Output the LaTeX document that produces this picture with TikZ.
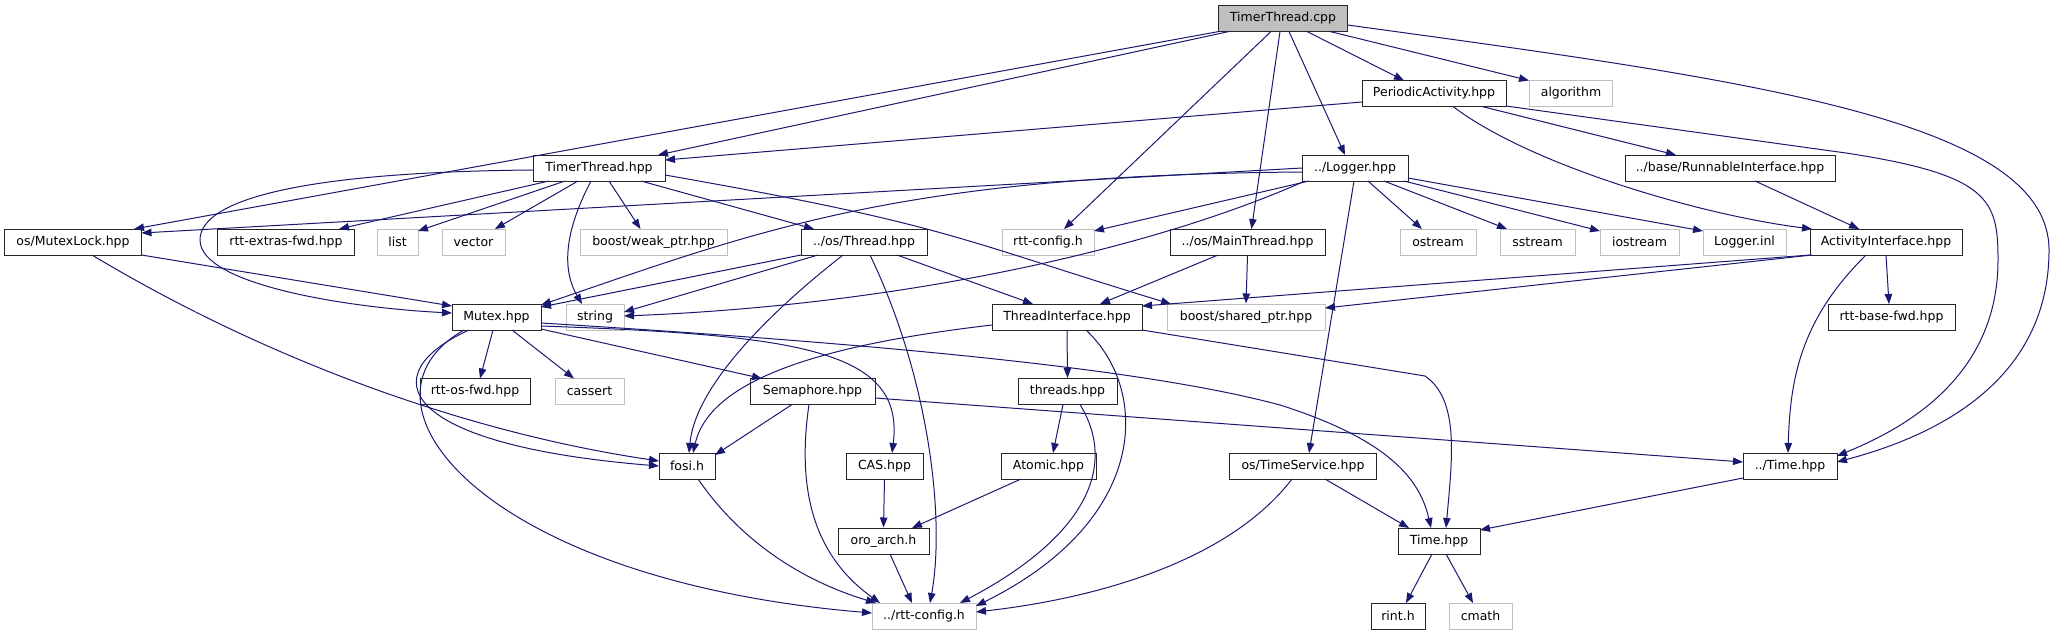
\documentclass[tikz,border=0pt]{standalone}
\usepackage{fontspec}
\setmainfont{DejaVu Sans}
\usetikzlibrary{arrows.meta,calc}
\definecolor{edgeblue}{HTML}{191970}
\definecolor{sysgray}{HTML}{BFBFBF}
\begin{document}
\begin{tikzpicture}[x=1pt,y=-1pt,
  file/.style={draw=black!85,line width=1pt,fill=white,minimum height=26pt,inner sep=0pt,font=\fontsize{12.5}{14}\selectfont},
  sys/.style={file,draw=sysgray},
  root/.style={file,fill=sysgray},
  dep/.style={draw=edgeblue,line width=1pt,-{Triangle[length=10pt,width=7.5pt]}}]
\useasboundingbox (0,0) rectangle (2055,635);
% files
\node[root,minimum width=129pt] (cpp) at (1283,18.5) {TimerThread.cpp};
\node[file,minimum width=144pt] (pact) at (1434,93.5) {PeriodicActivity.hpp};
\node[sys,minimum width=83pt] (algo) at (1571,93.5) {algorithm};
\node[file,minimum width=132pt] (tthpp) at (599,168) {TimerThread.hpp};
\node[file,minimum width=106pt] (logger) at (1355,168) {../Logger.hpp};
\node[file,minimum width=210pt] (runnable) at (1730,168) {../base/RunnableInterface.hpp};
\node[file,minimum width=137pt] (mlock) at (73,242) {os/MutexLock.hpp};
\node[file,minimum width=137pt] (extras) at (286,242) {rtt-extras-fwd.hpp};
\node[sys,minimum width=41pt] (list) at (397.5,242) {list};
\node[sys,minimum width=63pt] (vector) at (473.5,242) {vector};
\node[sys,minimum width=147pt] (weakptr) at (653.5,242) {boost/weak\_ptr.hpp};
\node[file,minimum width=126pt] (thread) at (864,242) {../os/Thread.hpp};
\node[sys,minimum width=92pt] (cfg) at (1048,242) {rtt-config.h};
\node[file,minimum width=155pt] (mainthr) at (1247.5,242) {../os/MainThread.hpp};
\node[sys,minimum width=76pt] (ostream) at (1438,242) {ostream};
\node[sys,minimum width=75pt] (sstream) at (1537.5,242) {sstream};
\node[sys,minimum width=79pt] (iostream) at (1639.5,242) {iostream};
\node[sys,minimum width=83pt] (loginl) at (1744.5,242) {Logger.inl};
\node[file,minimum width=152pt] (actif) at (1886,242) {ActivityInterface.hpp};
\node[file,minimum width=89pt] (mutex) at (496.5,317) {Mutex.hpp};
\node[sys,minimum width=58pt] (string) at (595,317) {string};
\node[file,minimum width=150pt] (thrif) at (1067,317) {ThreadInterface.hpp};
\node[sys,minimum width=158pt] (sharedptr) at (1246,317) {boost/shared\_ptr.hpp};
\node[file,minimum width=127pt] (basefwd) at (1891.5,317) {rtt-base-fwd.hpp};
\node[file,minimum width=110pt] (osfwd) at (475,391.5) {rtt-os-fwd.hpp};
\node[sys,minimum width=69pt] (cassert) at (589.5,391.5) {cassert};
\node[file,minimum width=125pt] (sema) at (812.5,391.5) {Semaphore.hpp};
\node[file,minimum width=99pt] (threads) at (1067.5,391.5) {threads.hpp};
\node[file,minimum width=56pt] (fosi) at (687,466) {fosi.h};
\node[file,minimum width=77pt] (cas) at (884.5,466) {CAS.hpp};
\node[file,minimum width=95pt] (atomic) at (1048.5,466) {Atomic.hpp};
\node[file,minimum width=147pt] (tsvc) at (1303,466) {os/TimeService.hpp};
\node[file,minimum width=94pt] (ltime) at (1790,466) {../Time.hpp};
\node[file,minimum width=91pt] (oro) at (883.5,541) {oro\_arch.h};
\node[file,minimum width=82pt] (time) at (1439,541) {Time.hpp};
\node[sys,minimum width=104pt] (rcfg) at (924,616) {../rtt-config.h};
\node[file,minimum width=54pt] (rint) at (1398,616) {rint.h};
\node[sys,minimum width=63pt] (cmath) at (1480.5,616) {cmath};
% TimerThread.cpp
\draw[dep] ($(cpp)+(-64,13)$) -- ($(mlock)+(61,-13)$);
\draw[dep] ($(cpp)+(-54,13)$) -- ($(tthpp)+(59,-13)$);
\draw[dep] ($(cpp)+(-12,13)$) -- ($(cfg)+(16,-13)$);
\draw[dep] ($(cpp)+(-3,13)$) -- ($(mainthr)+(4,-13)$);
\draw[dep] ($(cpp)+(6,13)$) -- ($(logger)+(-10,-13)$);
\draw[dep] ($(cpp)+(24,13)$) -- ($(pact)+(-30,-13)$);
\draw[dep] ($(cpp)+(47,13)$) -- ($(algo)+(-42,-13)$);
\draw[dep] ($(cpp)+(64.5,6.5)$) .. controls (1750,80) and (2049,120) .. (2049,250)
  .. controls (2049,390) and (1920,440) .. ($(ltime)+(47,-4)$);
% PeriodicActivity.hpp
\draw[dep] ($(pact)+(-72,8.5)$) -- ($(tthpp)+(66,-8)$);
\draw[dep] ($(pact)+(48,13)$) -- ($(runnable)+(-54,-13)$);
\draw[dep] ($(pact)+(19,13)$) .. controls (1530,165) and (1700,215) .. ($(actif)+(-74,-13)$);
\draw[dep] ($(pact)+(72,12.5)$) -- (1846,153) .. controls (1990,175) and (1998,200) .. (1998,260)
  .. controls (1998,380) and (1900,430) .. ($(ltime)+(47,-10)$);
% TimerThread.hpp
\draw[dep] ($(tthpp)+(-66,2)$) .. controls (300,172) and (200,200) .. (200,240)
  .. controls (200,285) and (350,308) .. ($(mutex)+(-44.5,-4)$);
\draw[dep] ($(tthpp)+(-50,13)$) -- ($(extras)+(53,-13)$);
\draw[dep] ($(tthpp)+(-34,13)$) -- ($(list)+(20.5,-11)$);
\draw[dep] ($(tthpp)+(-21,13)$) -- ($(vector)+(21.5,-13)$);
\draw[dep] ($(tthpp)+(-8,13)$) .. controls (560,240) and (565,275) .. ($(string)+(-13,-13)$);
\draw[dep] ($(tthpp)+(10,13)$) -- ($(weakptr)+(-13,-13)$);
\draw[dep] ($(tthpp)+(42,13)$) -- ($(thread)+(-50,-13)$);
\draw[dep] ($(tthpp)+(66,7)$) .. controls (950,225) and (960,240) .. ($(sharedptr)+(-75,-13)$);
% ../Logger.hpp
\draw[dep] ($(logger)+(-53,0)$) -- ($(mlock)+(68.5,-9)$);
\draw[dep] ($(logger)+(-53,4)$) .. controls (900,175) and (760,230) .. ($(mutex)+(44.5,-12)$);
\draw[dep] ($(logger)+(-50,13)$) .. controls (1150,250) and (900,305) .. ($(string)+(29,-1)$);
\draw[dep] ($(logger)+(-46,13)$) -- ($(cfg)+(46,-11)$);
\draw[dep] ($(logger)+(-1,13)$) -- ($(tsvc)+(6,-13)$);
\draw[dep] ($(logger)+(13,13)$) -- ($(ostream)+(-16,-13)$);
\draw[dep] ($(logger)+(29,13)$) -- ($(sstream)+(-30.5,-13)$);
\draw[dep] ($(logger)+(49,13)$) -- ($(iostream)+(-39.5,-11)$);
\draw[dep] ($(logger)+(53,10)$) -- ($(loginl)+(-41.5,-11)$);
% interfaces
\draw[dep] ($(runnable)+(25,13)$) -- ($(actif)+(-27,-13)$);
\draw[dep] ($(actif)+(0,13)$) -- ($(basefwd)+(-2.5,-13)$);
\draw[dep] ($(actif)+(-20,13)$) .. controls (1800,320) and (1790,380) .. ($(ltime)+(-2,-13)$);
\draw[dep] ($(actif)+(-76,13)$) -- ($(thrif)+(75,-11)$);
\draw[dep] ($(actif)+(-74,13)$) -- ($(sharedptr)+(79,-9)$);
% os/MutexLock.hpp and Mutex.hpp
\draw[dep] ($(mlock)+(68.5,13)$) -- ($(mutex)+(-44.5,-11)$);
\draw[dep] ($(mlock)+(19,13)$) .. controls (250,350) and (450,430) .. ($(fosi)+(-28,-5)$);
\draw[dep] ($(mutex)+(-3.5,13)$) -- ($(osfwd)+(5,-13)$);
\draw[dep] ($(mutex)+(15.5,13)$) -- ($(cassert)+(-15.5,-13)$);
\draw[dep] ($(mutex)+(-27.5,13)$) .. controls (370,375) and (400,445) .. ($(fosi)+(-28,0)$);
\draw[dep] ($(mutex)+(-32.5,13)$) .. controls (340,400) and (480,580) .. ($(rcfg)+(-52,-3)$);
\draw[dep] ($(mutex)+(44.5,12)$) -- ($(sema)+(-50.5,-13)$);
\draw[dep] ($(mutex)+(44.5,9)$) .. controls (800,335) and (905,350) .. ($(cas)+(7.5,-13)$);
\draw[dep] ($(mutex)+(44.5,6)$) .. controls (900,345) and (1150,370) .. (1280,405)
  .. controls (1390,440) and (1420,480) .. ($(time)+(-8,-13)$);
% ../os/Thread.hpp and ../os/MainThread.hpp
\draw[dep] ($(thread)+(-63,13)$) -- ($(mutex)+(44.5,-10)$);
\draw[dep] ($(thread)+(-46,13)$) -- ($(string)+(29,-5)$);
\draw[dep] ($(thread)+(-21,13)$) .. controls (760,320) and (695,390) .. ($(fosi)+(2,-13)$);
\draw[dep] ($(thread)+(6,13)$) .. controls (930,380) and (945,520) .. ($(rcfg)+(6,-13)$);
\draw[dep] ($(thread)+(33,13)$) -- ($(thrif)+(-34,-13)$);
\draw[dep] ($(mainthr)+(-29.5,13)$) -- ($(thrif)+(33,-13)$);
\draw[dep] (mainthr.south) -- (sharedptr.north);
% ThreadInterface.hpp
\draw[dep] ($(thrif)+(-75,8)$) .. controls (820,345) and (710,380) .. ($(fosi)+(6,-13)$);
\draw[dep] (thrif.south) -- (threads.north);
\draw[dep] ($(thrif)+(19,13)$) .. controls (1150,390) and (1150,520) .. ($(rcfg)+(52,-10)$);
\draw[dep] ($(thrif)+(75,13)$) -- (1425,376) .. controls (1460,400) and (1452,460) .. ($(time)+(7,-13)$);
% Semaphore.hpp, threads.hpp
\draw[dep] ($(sema)+(-20.5,13)$) -- ($(fosi)+(28,-11)$);
\draw[dep] ($(sema)+(-3.5,13)$) .. controls (795,500) and (820,560) .. ($(rcfg)+(-44,-13)$);
\draw[dep] ($(sema)+(62.5,6.5)$) -- ($(ltime)+(-47,-4)$);
\draw[dep] ($(threads)+(-4.5,13)$) -- ($(atomic)+(4.5,-13)$);
\draw[dep] ($(threads)+(12.5,13)$) .. controls (1120,470) and (1080,540) .. ($(rcfg)+(36,-13)$);
% lower levels
\draw[dep] ($(fosi)+(11,13)$) .. controls (740,540) and (800,580) .. ($(rcfg)+(-48,-13)$);
\draw[dep] (cas.south) -- (oro.north);
\draw[dep] ($(atomic)+(-27.5,13)$) -- ($(oro)+(28.5,-13)$);
\draw[dep] ($(oro)+(6.5,13)$) -- ($(rcfg)+(-12,-13)$);
\draw[dep] ($(tsvc)+(-11,13)$) .. controls (1230,560) and (1100,598) .. ($(rcfg)+(52,-4)$);
\draw[dep] ($(tsvc)+(22,13)$) -- ($(time)+(-30,-13)$);
\draw[dep] ($(ltime)+(-47,12)$) -- ($(time)+(41,-11)$);
\draw[dep] ($(time)+(-7,13)$) -- ($(rint)+(8,-13)$);
\draw[dep] ($(time)+(7,13)$) -- ($(cmath)+(-7.5,-13)$);
\end{tikzpicture}
\end{document}
